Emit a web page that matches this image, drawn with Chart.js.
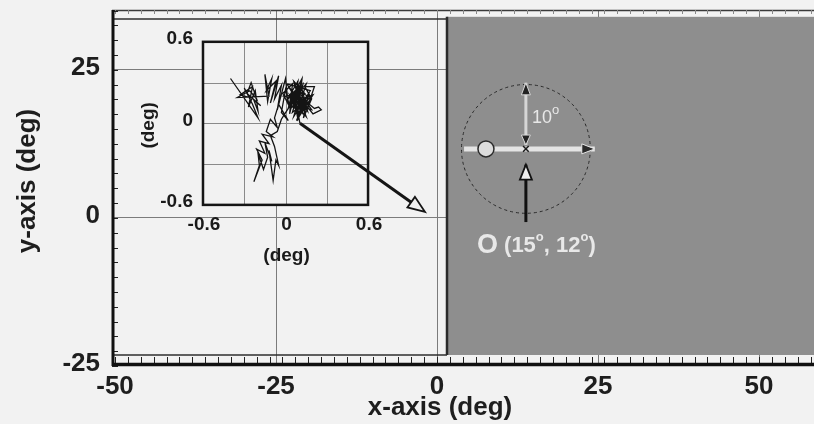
<!DOCTYPE html>
<html><head><meta charset="utf-8">
<script src="https://cdn.jsdelivr.net/npm/chart.js@4.4.1/dist/chart.umd.min.js"></script>
<style>
html,body{margin:0;padding:0;background:#f2f2f2;}
#wrap{width:814px;height:424px;position:relative;overflow:hidden;}
canvas{display:block;}
</style></head><body>
<div id="wrap"><canvas id="c" width="814" height="424"></canvas></div>
<script>
// ---------------- data ----------------
const xTickValues = [-50, -25, 0, 25, 50];
const yTickValues = [-25, 0, 25];
const insetTickValues = [-0.6, 0, 0.6];
const insetGridValues = [-0.3, 0, 0.3];

// fixation trace (inset, deg)
const trackX = [-0.40,-0.20,-0.24,-0.30,-0.26,-0.33,-0.24,-0.27,-0.22,-0.20,-0.23,-0.18,-0.28,-0.25,-0.21,-0.26,-0.35,-0.12,-0.15,-0.13,
 -0.10,-0.14,-0.07,-0.11,-0.05,-0.08,-0.03,-0.06,0.00,0.02,-0.02,0.05,0.03,0.07,0.01,0.09,0.06,0.11,0.04,0.12,
 0.08,0.15,0.10,0.17,0.13,0.19,0.14,0.21,0.16,0.20,0.26,0.24,0.21,0.15,0.09,0.06,0.03,0.00,-0.03,0.02,
 -0.05,-0.08,-0.06,-0.11,-0.14,-0.09,-0.17,-0.12,-0.19,-0.15,-0.21,-0.17,-0.23,-0.19,-0.20,-0.16,-0.13,-0.15,-0.10,-0.12,
 -0.09,-0.07,-0.05,-0.08,-0.11,-0.06,-0.03,0.02,0.05,0.08,0.12,0.04,0.10,0.07,0.14,0.03,0.09,0.16,0.05,0.11,
 0.13,0.06,0.18,0.01,0.11,0.19,0.07,0.15,0.04,0.12,0.09,0.17,-0.01,0.14,0.06,0.10,0.20,0.08,0.13,0.03,
 0.16,0.11,0.05,0.18,0.09,0.14,0.08,0.105];
const trackY = [0.33,0.04,0.14,0.26,0.19,0.21,0.27,0.12,0.24,0.09,0.17,0.13,0.22,0.30,0.18,0.24,0.19,0.20,0.36,0.16,
 0.33,0.24,0.31,0.15,0.35,0.18,0.28,0.10,0.33,0.14,0.22,0.29,0.07,0.24,0.17,0.31,0.11,0.26,0.19,0.08,
 0.21,0.29,0.13,0.22,0.04,0.18,0.27,0.27,0.12,0.07,0.10,0.12,0.11,0.16,0.03,0.20,0.12,0.25,0.08,0.02,
 0.14,0.04,-0.03,0.03,-0.06,-0.10,-0.08,-0.15,-0.13,-0.22,-0.19,-0.27,-0.43,-0.31,-0.22,-0.34,-0.25,-0.14,-0.28,-0.20,
 -0.42,-0.27,-0.31,-0.17,-0.09,-0.06,0.03,0.11,0.24,0.09,0.19,0.15,0.28,0.16,0.10,0.21,0.06,0.20,0.12,0.23,
 0.30,0.05,0.24,0.29,0.12,0.10,0.27,0.05,0.18,0.33,0.08,0.15,0.20,0.22,0.31,0.17,0.21,0.02,0.14,0.26,
 0.09,0.29,0.08,0.19,0.24,0.11,0.13,0.00];

// annotations in the grey field (deg)
const fixationCentre = [13.8, 11.65];     // "O (15°, 12°)"
const startMarker = [7.6, 11.65];
const motionPathX = [4.2, 24.5];
const motionPathY = [11.65, 11.65];
const offsetArrowX = [13.8, 13.8];
const offsetArrowY = [22.8, 12.3];
const pointerArrowX = [13.8, 13.8];
const pointerArrowY = [-0.7, 9.0];
const circleRadiusDeg = 10;
const zoomArrowFromInset = [0.105, 0.0];
const zoomArrowToMain = [-1.86, 1.0];

// ---------------- layout (main-axis units) ----------------
const greyField = {x0: 1.55, y0: -23.14, y1: 33.95};
const insetBox = {x0: -36.34, x1: -10.71, y0: 2.20, y1: 29.73};
const innerTopY = 33.6;

const FONT = "'Liberation Sans', Arial, Helvetica, sans-serif";
Chart.defaults.font.family = FONT;

function head(ctx, tx, ty, ang, len, hw, fill, stroke, lw){
  const bx = tx - Math.cos(ang)*len, by = ty - Math.sin(ang)*len;
  const px = -Math.sin(ang)*hw, py = Math.cos(ang)*hw;
  ctx.beginPath();
  ctx.moveTo(tx, ty); ctx.lineTo(bx+px, by+py); ctx.lineTo(bx-px, by-py); ctx.closePath();
  ctx.fillStyle = fill; ctx.fill();
  if (stroke){ ctx.strokeStyle = stroke; ctx.lineWidth = lw; ctx.lineJoin='miter'; ctx.stroke(); }
}
function runs(ctx, x, y, parts){
  let cx = x;
  ctx.textAlign = 'left'; ctx.textBaseline = 'alphabetic';
  for (const [t, size, w, dy] of parts){
    ctx.font = `${w} ${size}px ${FONT}`;
    ctx.fillText(t, cx, y + dy);
    cx += ctx.measureText(t).width;
  }
}
function line(ctx, x0, y0, x1, y1, c, w){
  ctx.beginPath(); ctx.moveTo(x0, y0); ctx.lineTo(x1, y1);
  ctx.strokeStyle = c; ctx.lineWidth = w; ctx.stroke();
}
const noPad = s => { s.paddingLeft = 0; s.paddingRight = 0; s.paddingTop = 0; s.paddingBottom = 0; };

const figPlugin = {
  id: 'fig',
  afterLayout(chart){
    const {x: X, y: Y, ix, iy} = chart.scales;
    ix.left = X.getPixelForValue(insetBox.x0); ix.right = X.getPixelForValue(insetBox.x1);
    ix.width = ix.right - ix.left;
    iy.top = Y.getPixelForValue(insetBox.y1); iy.bottom = Y.getPixelForValue(insetBox.y0);
    iy.height = iy.bottom - iy.top;
    ix.configure(); iy.configure();
  },
  beforeDatasetsDraw(chart){
    const {ctx, chartArea: ca} = chart;
    const {x: X, y: Y, ix, iy} = chart.scales;
    ctx.save();
    const gx = X.getPixelForValue(greyField.x0), gt = Y.getPixelForValue(greyField.y1), gb = Y.getPixelForValue(greyField.y0);
    ctx.fillStyle = '#8e8e8e';
    ctx.fillRect(gx, gt, ca.right - gx, gb - gt);
    const cx = X.getPixelForValue(fixationCentre[0]), cy = Y.getPixelForValue(fixationCentre[1]);
    const r = X.getPixelForValue(fixationCentre[0] + circleRadiusDeg) - cx;
    ctx.setLineDash([3, 3]);
    ctx.beginPath(); ctx.arc(cx, cy, r, 0, Math.PI*2);
    ctx.strokeStyle = '#2a2a2a'; ctx.lineWidth = 1; ctx.stroke();
    ctx.setLineDash([]);
    const l = ix.left, rr = ix.right, t = iy.top, b = iy.bottom;
    ctx.fillStyle = '#f2f2f2';
    ctx.fillRect(l, t, rr - l, b - t);
    insetGridValues.forEach(v => {
      const px = Math.round(ix.getPixelForValue(v)) + 0.5, py = Math.round(iy.getPixelForValue(v)) + 0.5;
      line(ctx, px, t, px, b, '#8a8a8a', 1);
      line(ctx, l, py, rr, py, '#8a8a8a', 1);
    });
    ctx.restore();
  },
  afterDatasetsDraw(chart){
    const {ctx, chartArea: ca} = chart;
    const {x: X, y: Y, ix, iy} = chart.scales;
    ctx.save();
    ctx.strokeStyle = '#151515'; ctx.lineWidth = 2.5;
    ctx.strokeRect(ix.left, iy.top, ix.right - ix.left, iy.bottom - iy.top);
    ctx.fillStyle = '#1a1a1a';
    ctx.font = `bold 19px ${FONT}`;
    ctx.textAlign = 'right'; ctx.textBaseline = 'middle';
    insetTickValues.forEach(v => ctx.fillText(String(v), ix.left - 10, iy.getPixelForValue(v) - 3));
    ctx.textAlign = 'center';
    insetTickValues.forEach(v => ctx.fillText(String(v), ix.getPixelForValue(v) + 1, iy.bottom + 20));
    ctx.fillText('(deg)', ix.getPixelForValue(0) + 1, iy.bottom + 51);
    ctx.save();
    ctx.translate(ix.left - 54, (iy.top + iy.bottom) / 2 + 2);
    ctx.rotate(-Math.PI/2);
    ctx.fillText('(deg)', 0, 0);
    ctx.restore();

    const sx = ix.getPixelForValue(zoomArrowFromInset[0]), sy = iy.getPixelForValue(zoomArrowFromInset[1]);
    const ex = X.getPixelForValue(zoomArrowToMain[0]), ey = Y.getPixelForValue(zoomArrowToMain[1]);
    const ang = Math.atan2(ey - sy, ex - sx);
    const hl = 17;
    line(ctx, sx, sy, ex - Math.cos(ang)*hl, ey - Math.sin(ang)*hl, '#151515', 3);
    head(ctx, ex, ey, ang, hl, 6.5, '#f2f2f2', '#151515', 1.8);

    const mx1 = X.getPixelForValue(motionPathX[1]), my = Y.getPixelForValue(motionPathY[1]);
    head(ctx, mx1, my, 0, 13, 5, '#2a2a2a', '#e6e6e6', 1);
    const ox = X.getPixelForValue(offsetArrowX[0]);
    head(ctx, ox, Y.getPixelForValue(offsetArrowY[0]), -Math.PI/2, 12, 4.5, '#222', '#d8d8d8', 1);
    head(ctx, ox, Y.getPixelForValue(offsetArrowY[1]), Math.PI/2, 10, 4.5, '#222', '#d8d8d8', 1);
    head(ctx, X.getPixelForValue(pointerArrowX[1]), Y.getPixelForValue(pointerArrowY[1]), -Math.PI/2, 15, 6, '#ededed', '#111', 1.8);

    ctx.fillStyle = '#e8e8e8';
    runs(ctx, X.getPixelForValue(14.75), Y.getPixelForValue(16.05), [['10', 18, 'normal', 0], ['o', 13, 'normal', -9]]);
    runs(ctx, X.getPixelForValue(6.2), Y.getPixelForValue(-5.9), [['O', 27, 'bold', 0], [' (15', 22, 'bold', -1], ['o', 13, 'bold', -12], [', 12', 22, 'bold', -1], ['o', 13, 'bold', -12], [')', 22, 'bold', -1]]);

    const gx = X.getPixelForValue(greyField.x0), gt = Y.getPixelForValue(greyField.y1), gb = Y.getPixelForValue(greyField.y0);
    line(ctx, gx, gt, gx, gb, '#2b2b2b', 2.5);
    line(ctx, ca.left, ca.top + 0.5, ca.right, ca.top + 0.5, '#3a3a3a', 1.5);
    const it = Y.getPixelForValue(innerTopY);
    line(ctx, ca.left, it, gx, it, '#2e2e2e', 1.5);
    line(ctx, ca.left, gb, gx, gb, '#2e2e2e', 1.5);
    for (let v = -50; v <= 58; v += 2){
      const p = Math.round(X.getPixelForValue(v)) + 0.5;
      line(ctx, p, ca.bottom - 9, p, ca.bottom - 2, '#222', 1);
      line(ctx, p, ca.top, p, ca.top + 4, '#888', 1);
    }
    for (let v = -25; v <= 35; v += 2.5){
      const p = Math.round(Y.getPixelForValue(v)) + 0.5;
      line(ctx, ca.left, p, ca.left + 6, p, '#222', 1);
    }
    line(ctx, ca.left + 1, ca.top, ca.left + 1, ca.bottom, '#111', 3);
    line(ctx, ca.left, ca.bottom - 1.5, ca.right, ca.bottom - 1.5, '#111', 3.5);

    ctx.fillStyle = '#1e1e1e';
    ctx.font = `bold 26px ${FONT}`;
    ctx.textAlign = 'center'; ctx.textBaseline = 'middle';
    ctx.fillText('x-axis (deg)', 440, 408);
    ctx.save();
    ctx.translate(28, 181); ctx.rotate(-Math.PI/2);
    ctx.fillText('y-axis (deg)', 0, 0);
    ctx.restore();
    ctx.restore();
  }
};

const lineDs = (xs, ys, color, width, xid, yid) => ({
  type: 'line', data: xs.map((x, i) => ({x, y: ys[i]})), xAxisID: xid, yAxisID: yid,
  borderColor: color, borderWidth: width, pointRadius: 0, tension: 0, fill: false, order: 1
});

new Chart(document.getElementById('c'), {
  type: 'line',
  data: {
    datasets: [
      lineDs(trackX, trackY, '#141414', 1.3, 'ix', 'iy'),
      lineDs(motionPathX, motionPathY, '#e4e4e4', 5, 'x', 'y'),
      lineDs(offsetArrowX, offsetArrowY, '#d6d6d6', 3, 'x', 'y'),
      lineDs(pointerArrowX, pointerArrowY, '#111111', 3, 'x', 'y'),
      {type: 'scatter', data: [{x: startMarker[0], y: startMarker[1]}], xAxisID: 'x', yAxisID: 'y',
       pointRadius: 8, pointBackgroundColor: '#dcdcdc', pointBorderColor: '#2a2a2a', pointBorderWidth: 1.5, order: 0},
      {type: 'scatter', data: [{x: fixationCentre[0], y: fixationCentre[1]}], xAxisID: 'x', yAxisID: 'y',
       pointStyle: 'crossRot', pointRadius: 4, pointBorderColor: '#1a1a1a', pointBorderWidth: 1.5, order: 0}
    ]
  },
  options: {
    responsive: false, animation: false, events: [],
    layout: {autoPadding: false, padding: {top: 10, left: 0, right: 0, bottom: 0}},
    plugins: {legend: {display: false}, tooltip: {enabled: false}},
    scales: {
      x: {
        type: 'linear', position: 'bottom', min: -50.47, max: 58.54,
        afterFit: s => { s.height = 58; noPad(s); },
        afterBuildTicks: s => { s.ticks = xTickValues.map(v => ({value: v})); },
        grid: {drawTicks: false, lineWidth: 1, color: c => (c.tick && c.tick.value === -50) ? 'rgba(0,0,0,0)' : '#7c7c7c'},
        border: {display: false},
        ticks: {font: {size: 26, weight: 'bold'}, color: '#1e1e1e', padding: 5, maxRotation: 0, autoSkip: false,
                callback: v => String(v)}
      },
      y: {
        type: 'linear', position: 'left', min: -25, max: 35.1,
        afterFit: s => { s.width = 112; noPad(s); },
        afterBuildTicks: s => { s.ticks = yTickValues.map(v => ({value: v})); },
        grid: {drawTicks: false, lineWidth: 1, color: c => (c.tick && c.tick.value === -25) ? 'rgba(0,0,0,0)' : '#7c7c7c'},
        border: {display: false},
        ticks: {font: {size: 26, weight: 'bold'}, color: '#1e1e1e', padding: 12, labelOffset: -2, autoSkip: false,
                callback: v => String(v)}
      },
      ix: {type: 'linear', axis: 'x', position: 'bottom', min: -0.6, max: 0.6, display: false,
           ticks: {display: false}, afterFit: s => { s.height = 0; noPad(s); }},
      iy: {type: 'linear', axis: 'y', position: 'left', min: -0.6, max: 0.6, display: false,
           ticks: {display: false}, afterFit: s => { s.width = 0; noPad(s); }}
    }
  },
  plugins: [figPlugin]
});
</script>
</body></html>
